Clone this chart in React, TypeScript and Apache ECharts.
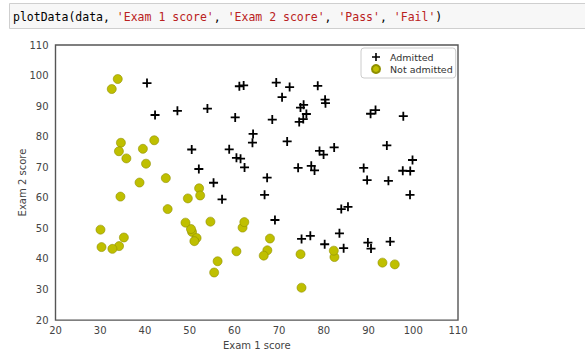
import React, { useEffect, useRef } from "react";
import * as echarts from "echarts";

const xTicks = [20, 30, 40, 50, 60, 70, 80, 90, 100, 110];
const yTicks = [20, 30, 40, 50, 60, 70, 80, 90, 100, 110];
const seriesNames = ["Admitted", "Not admitted"];
const xLabel = "Exam 1 score";
const yLabel = "Exam 2 score";

const admitted: [number, number][] = [
  [60.18, 86.31], [79.03, 75.34], [61.11, 96.51], [75.02, 46.55], [76.1, 87.42],
  [84.43, 43.53], [82.31, 76.48], [69.36, 97.72], [53.97, 89.21], [69.07, 52.74],
  [70.66, 92.93], [76.98, 47.58], [89.68, 65.8], [77.92, 68.97], [62.27, 69.95],
  [80.19, 44.82], [61.38, 72.81], [85.4, 57.05], [52.05, 69.43], [64.18, 80.91],
  [83.9, 56.31], [94.44, 65.57], [77.19, 70.46], [97.77, 86.73], [62.07, 96.77],
  [91.56, 88.7], [79.94, 74.16], [99.27, 61.0], [90.55, 43.39], [97.65, 68.86],
  [74.25, 69.82], [71.8, 78.45], [75.4, 85.76], [40.46, 97.54], [80.28, 92.12],
  [66.75, 60.99], [64.04, 78.03], [72.35, 96.23], [60.46, 73.09], [58.84, 75.86],
  [99.83, 72.37], [47.26, 88.48], [50.46, 75.81], [88.91, 69.8], [94.83, 45.69],
  [67.32, 66.59], [57.24, 59.51], [80.37, 90.96], [68.47, 85.59], [75.48, 90.42],
  [78.64, 96.65], [94.09, 77.16], [90.45, 87.51], [74.49, 84.85], [89.85, 45.36],
  [83.49, 48.38], [42.26, 87.1], [99.32, 68.78], [55.34, 64.93], [74.78, 89.53],
];

const notAdmitted: [number, number][] = [
  [34.62, 78.02], [30.29, 43.89], [35.85, 72.9], [45.08, 56.32], [95.86, 38.23],
  [75.01, 30.6], [39.54, 76.04], [67.95, 46.68], [67.37, 42.84], [50.53, 48.86],
  [34.21, 44.21], [93.11, 38.8], [61.83, 50.26], [38.79, 65.0], [52.11, 63.13],
  [40.24, 71.17], [54.64, 52.21], [33.92, 98.87], [74.79, 41.57], [34.18, 75.24],
  [51.55, 46.86], [82.37, 40.62], [51.05, 45.82], [62.22, 52.06], [34.52, 60.4],
  [50.29, 49.8], [49.59, 59.81], [32.58, 95.6], [35.29, 47.02], [56.25, 39.26],
  [30.06, 49.59], [44.67, 66.45], [66.56, 41.09], [49.07, 51.88], [32.72, 43.31],
  [60.46, 42.51], [82.23, 42.72], [42.08, 78.84], [52.35, 60.77], [55.48, 35.57],
];

const codeParts = ["plotData(data, ", "'Exam 1 score'", ", ", "'Exam 2 score'", ", ", "'Pass'", ", ", "'Fail'", ")"];

const PLUS = "path://M4,0H6V4H10V6H6V10H4V6H0V4H4Z";

export default function App() {
  const ref = useRef<HTMLDivElement>(null);
  useEffect(() => {
    document.body.style.margin = "0";
    const chart = echarts.init(ref.current!, undefined, { renderer: "svg" });
    const codeText = codeParts
      .map((p) => (p.startsWith("'") ? `{s|${p}}` : `{c|${p}}`))
      .join("");
    chart.setOption({
      animation: false,
      backgroundColor: "#ffffff",
      textStyle: { fontFamily: "DejaVu Sans" },
      grid: {
        left: 55.5,
        top: 45,
        right: 127,
        bottom: 33,
        show: true,
        borderColor: "#555555",
        borderWidth: 1.4,
        backgroundColor: "#ffffff",
      },
      xAxis: {
        type: "value",
        min: xTicks[0],
        max: xTicks[xTicks.length - 1],
        interval: 10,
        name: xLabel,
        nameLocation: "middle",
        nameGap: 18,
        nameTextStyle: { fontSize: 10, color: "#444", fontFamily: "DejaVu Sans" },
        axisLine: { show: false },
        axisTick: { show: false },
        splitLine: { show: false },
        axisLabel: { fontSize: 10, color: "#444", margin: 5, fontFamily: "DejaVu Sans" },
      },
      yAxis: {
        type: "value",
        min: yTicks[0],
        max: yTicks[yTicks.length - 1],
        interval: 10,
        name: yLabel,
        nameLocation: "middle",
        nameGap: 28,
        nameMoveOverlap: false,
        nameTextStyle: { fontSize: 10, color: "#444", fontFamily: "DejaVu Sans" },
        axisLine: { show: false },
        axisTick: { show: false },
        splitLine: { show: false },
        axisLabel: { fontSize: 10, color: "#444", margin: 7, fontFamily: "DejaVu Sans" },
      },
      legend: {
        orient: "vertical",
        left: 361,
        top: 48,
        padding: [3, 3, 3, 10],
        itemGap: 0,
        itemWidth: 8,
        itemHeight: 8,
        backgroundColor: "#ffffff",
        borderColor: "#cccccc",
        borderWidth: 1,
        borderRadius: 3,
        textStyle: { fontSize: 9.5, color: "#333", lineHeight: 12, padding: [0, 0, 0, 5], fontFamily: "DejaVu Sans" },
        data: [
          { name: seriesNames[0], icon: PLUS },
          { name: seriesNames[1], icon: "circle" },
        ],
      },
      graphic: [
        {
          type: "rect",
          shape: { x: 9.5, y: 3.5, width: 600, height: 25 },
          style: { fill: "#f7f7f7", stroke: "#cfcfcf", lineWidth: 1 },
        },
        {
          type: "text",
          x: 13,
          y: 16.5,
          style: {
            text: codeText,
            verticalAlign: "middle",
            font: "11.5px 'DejaVu Sans Mono'",
            rich: {
              c: { fill: "#000000", fontFamily: "DejaVu Sans Mono", fontSize: 11.5 },
              s: { fill: "#BA2121", fontFamily: "DejaVu Sans Mono", fontSize: 11.5 },
            },
          },
        },
      ],
      series: [
        {
          name: seriesNames[0],
          type: "scatter",
          symbol: PLUS,
          symbolSize: 9,
          itemStyle: { color: "#000000", opacity: 1 },
          data: admitted,
          z: 3,
        },
        {
          name: seriesNames[1],
          type: "scatter",
          symbol: "circle",
          symbolSize: 9,
          itemStyle: { color: "#bfbf00", borderColor: "#8f8f00", borderWidth: 0.6, opacity: 1 },
          data: notAdmitted,
          z: 2,
        },
      ],
    });
    return () => chart.dispose();
  }, []);
  return <div ref={ref} style={{ width: 585, height: 355 }} />;
}
